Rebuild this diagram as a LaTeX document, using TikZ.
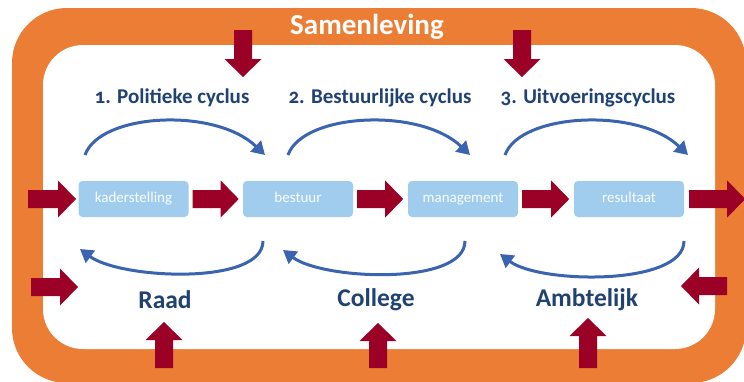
\documentclass[tikz,border=0pt]{standalone}
\usepackage{fontspec}
\setmainfont{Carlito}[Numbers=OldStyle]
\usetikzlibrary{arrows.meta,calc}
\definecolor{frameorange}{RGB}{236,125,53}
\definecolor{arrowred}{RGB}{155,0,38}
\definecolor{boxblue}{RGB}{160,205,238}
\definecolor{arcblue}{RGB}{58,100,176}
\definecolor{textblue}{RGB}{32,66,115}
\tikzset{
  pics/barrow/.style={code={
    \fill[arrowred] (0,-9) -- ({#1-18},-9) -- ({#1-18},-18.5) -- (#1,0)
      -- ({#1-18},18.5) -- ({#1-18},9) -- (0,9) -- cycle;}},
  stagebox/.style={fill=boxblue, rounded corners=4pt, minimum width=110pt,
    minimum height=36pt, inner sep=0pt, text=white!95!boxblue,
    text height=10.5pt, text depth=3pt,
    font=\fontsize{15}{17}\selectfont},
  cyclelabel/.style={text=textblue, font=\bfseries\fontsize{21}{24}\selectfont},
  actorlabel/.style={text=textblue, font=\bfseries\fontsize{25.5}{28}\selectfont},
  cyclearc/.style={draw=arcblue, line width=3pt,
    -{Triangle[length=13pt,width=15pt]}},
}
\begin{document}
\begin{tikzpicture}[x=1pt,y=-1pt]
\useasboundingbox (0,0) rectangle (744,381);
\clip (0,0) rectangle (744,381);
% frame
\fill[frameorange, rounded corners=55pt] (12,8) rectangle (746,383);
\fill[white, rounded corners=40pt] (43,45) rectangle (715,349);
\node[text=white, font=\bfseries\fontsize{29}{32}\selectfont] (samen) at (367,27) {Samenleving};
% boxes
\node[stagebox] (kader) at (133.5,199) {kaderstelling};
\node[stagebox] (bestuur) at (298,199) {bestuur};
\node[stagebox] (mgmt) at (463,199) {management};
\node[stagebox] (result) at (629,199) {resultaat};
% labels
\node[cyclelabel] (c1) at (172,98) {1. Politieke cyclus};
\node[cyclelabel] (c2) at (380,98) {2. Bestuurlijke cyclus};
\node[cyclelabel] (c3) at (588,98) {3. Uitvoeringscyclus};
\node[actorlabel] (raad) at (165,300) {Raad};
\node[actorlabel] (college) at (376,300) {College};
\node[actorlabel] (ambt) at (587,300) {Ambtelijk};
% red block arrows
\pic at (28,199) {barrow=48};
\pic at ([xshift=4pt]kader.east) {barrow=46};
\pic at ([xshift=4pt]bestuur.east) {barrow=46};
\pic at ([xshift=4pt]mgmt.east) {barrow=47};
\pic at ([xshift=5pt]result.east) {barrow=56};
\pic[rotate=-90] at (243,30) {barrow=47};
\pic[rotate=-90] at (522,30) {barrow=47};
\pic at (31,287) {barrow=47};
\pic[rotate=180] at (727,286) {barrow=46};
\pic[rotate=90] at (164,368) {barrow=46};
\pic[rotate=90] at (378,368) {barrow=45};
\pic[rotate=90] at (588,368) {barrow=50};
% blue cycle arcs
\coordinate (t1a) at (85,155); \coordinate (t1b) at (265,155);
\coordinate (t2a) at (288,155); \coordinate (t2b) at (470,155);
\coordinate (t3a) at (505,155); \coordinate (t3b) at (688,155);
\coordinate (b1a) at (263,241); \coordinate (b1b) at (80,249);
\coordinate (b2a) at (465,241); \coordinate (b2b) at (283,250);
\coordinate (b3a) at (684,241); \coordinate (b3b) at (500,254);
\draw[cyclearc] (t1a) .. controls ($(t1a)+(15,-42)$) and ($(t1b)+(-50,-48)$) .. (t1b);
\draw[cyclearc] (t2a) .. controls ($(t2a)+(15,-42)$) and ($(t2b)+(-50,-48)$) .. (t2b);
\draw[cyclearc] (t3a) .. controls ($(t3a)+(15,-42)$) and ($(t3b)+(-50,-48)$) .. (t3b);
\draw[cyclearc] (b1a) .. controls ($(b1a)+(0,45)$) and ($(b1b)+(40,30)$) .. (b1b);
\draw[cyclearc] (b2a) .. controls ($(b2a)+(0,45)$) and ($(b2b)+(40,30)$) .. (b2b);
\draw[cyclearc] (b3a) .. controls ($(b3a)+(0,45)$) and ($(b3b)+(40,30)$) .. (b3b);
\end{tikzpicture}
\end{document}
